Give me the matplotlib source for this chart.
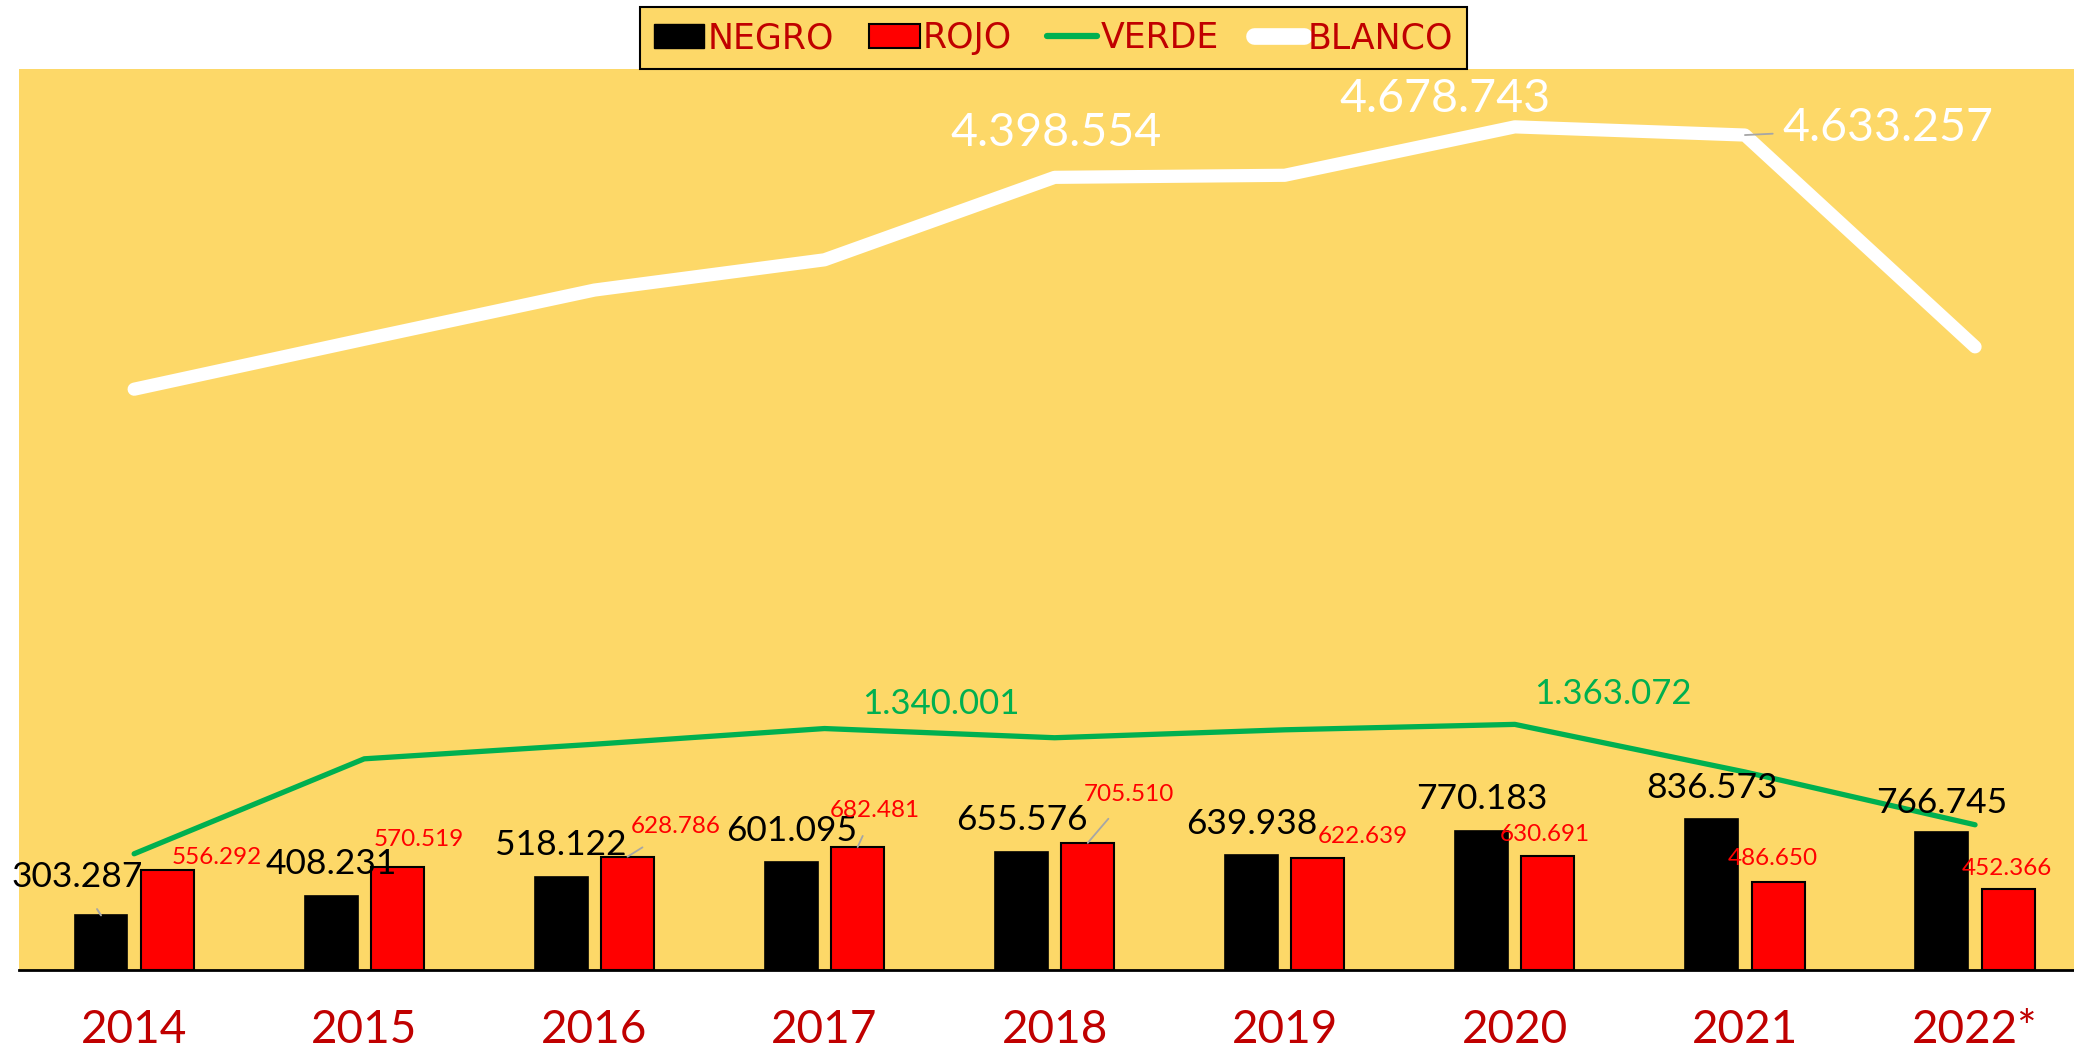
import numpy as np
import matplotlib
matplotlib.use("Agg")
import matplotlib.pyplot as plt
from matplotlib.patches import Patch
from matplotlib.lines import Line2D

years = ["2014", "2015", "2016", "2017", "2018", "2019", "2020", "2021", "2022*"]
negro = [303287, 408231, 518122, 601095, 655576, 639938, 770183, 836573, 766745]
rojo = [556292, 570519, 628786, 682481, 705510, 622639, 630691, 486650, 452366]
verde = [645000, 1172000, 1253000, 1340001, 1289000, 1333000, 1363072, 1099000, 806000]
blanco = [3223000, 3500000, 3773000, 3941000, 4398554, 4410000, 4678743, 4633257, 3458000]

# which line points get a label
verde_labeled = [3, 6]
blanco_labeled = [4, 6, 7]

BG = "#FDD868"
DARKRED = "#C00000"
GREEN = "#00B050"
LEADER = "#A6A6A6"
NUMFONT = "Lato"


def fmt(v):
    return f"{v:,}".replace(",", ".")


fig = plt.figure(figsize=(20.74, 10.48), dpi=100)
ax = fig.add_axes([0.0092, 0.0744, 0.9908, 0.8598])
ax.set_facecolor(BG)

x = np.arange(len(years))
w = 0.23
off = 0.144

ax.bar(x - off, negro, w, color="black", edgecolor="black", linewidth=1.2, zorder=2)
ax.bar(x + off, rojo, w, color="#FF0000", edgecolor="black", linewidth=1.5, zorder=2)
ax.plot(x, verde, color=GREEN, lw=3.8, solid_capstyle="round", zorder=3)
ax.plot(x, blanco, color="white", lw=9.5, solid_capstyle="round",
        solid_joinstyle="round", zorder=3)

ax.set_xlim(-0.5, 8.43)
ax.set_ylim(0, 5000000)
ax.set_yticks([])
for s in ["top", "left", "right"]:
    ax.spines[s].set_visible(False)
ax.spines["bottom"].set_linewidth(2)
ax.spines["bottom"].set_color("black")
ax.set_xticks(x)
ax.set_xticklabels(years, fontsize=33, color=DARKRED, fontfamily=NUMFONT)
ax.tick_params(axis="x", length=0, pad=28)

# label offsets in pixels (dx, dy) relative to bar top / point
negro_off = [(-24, 38), (0, 32), (0, 32), (0, 31), (0, 32), (0, 31), (0, 32), (0, 31), (0, 29)]
negro_leader = [0]
rojo_off = [(50, 12), (21, 28), (48, 30), (17, 37), (41, 48), (45, 21), (-3, 22), (-5, 24), (-1, 20)]
rojo_leader = [2, 3, 4]

px = 72 / fig.dpi

for i, v in enumerate(negro):
    dx, dy = negro_off[i]
    arrow = dict(arrowstyle="-", color=LEADER, lw=1.4, shrinkA=11, shrinkB=0) if i in negro_leader else None
    ax.annotate(fmt(v), (x[i] - off, v), xytext=(dx * px, dy * px), textcoords="offset points",
                ha="center", va="center", fontsize=25.5, color="black", fontfamily=NUMFONT,
                arrowprops=arrow, zorder=5)

for i, v in enumerate(rojo):
    dx, dy = rojo_off[i]
    arrow = dict(arrowstyle="-", color=LEADER, lw=1.3, shrinkA=10, shrinkB=0) if i in rojo_leader else None
    ax.annotate(fmt(v), (x[i] + off, v), xytext=(dx * px, dy * px), textcoords="offset points",
                ha="center", va="center", fontsize=17.5, color="#FF0000", fontfamily=NUMFONT,
                arrowprops=arrow, zorder=5)

verde_off = {3: (116, 25), 6: (98, 30)}
for i in verde_labeled:
    dx, dy = verde_off[i]
    ax.annotate(fmt(verde[i]), (x[i], verde[i]), xytext=(dx * px, dy * px), textcoords="offset points",
                ha="center", va="center", fontsize=25, color=GREEN, fontfamily=NUMFONT, zorder=5)

blanco_off = {4: (1, 44), 6: (-70, 28), 7: (143, 7)}
for i in blanco_labeled:
    dx, dy = blanco_off[i]
    arrow = dict(arrowstyle="-", color=LEADER, lw=1.3, shrinkA=5, shrinkB=0) if i == 7 else None
    ax.annotate(fmt(blanco[i]), (x[i], blanco[i]), xytext=(dx * px, dy * px), textcoords="offset points",
                ha="center", va="center", fontsize=33.5, color="white", fontfamily=NUMFONT,
                arrowprops=arrow, zorder=5)

handles = [
    Patch(facecolor="black", edgecolor="black"),
    Patch(facecolor="#FF0000", edgecolor="black", linewidth=1.5),
    Line2D([], [], color=GREEN, lw=4.5, solid_capstyle="round"),
    Line2D([], [], color="white", lw=12, solid_capstyle="round"),
]
leg = fig.legend(handles, ["NEGRO", "ROJO", "VERDE", "BLANCO"], loc="upper center",
                 bbox_to_anchor=(0.508, 0.993), ncol=4, frameon=True, fancybox=False,
                 facecolor=BG, edgecolor="black", framealpha=1,
                 prop={"family": "DejaVu Sans", "size": 25},
                 handlelength=1.45, handletextpad=0.1, columnspacing=1.0,
                 borderpad=0.4, handleheight=0.7, borderaxespad=0)
leg.get_frame().set_linewidth(1.5)
for t in leg.get_texts():
    t.set_color(DARKRED)

fig.savefig("out.png", dpi=100, facecolor="white")
